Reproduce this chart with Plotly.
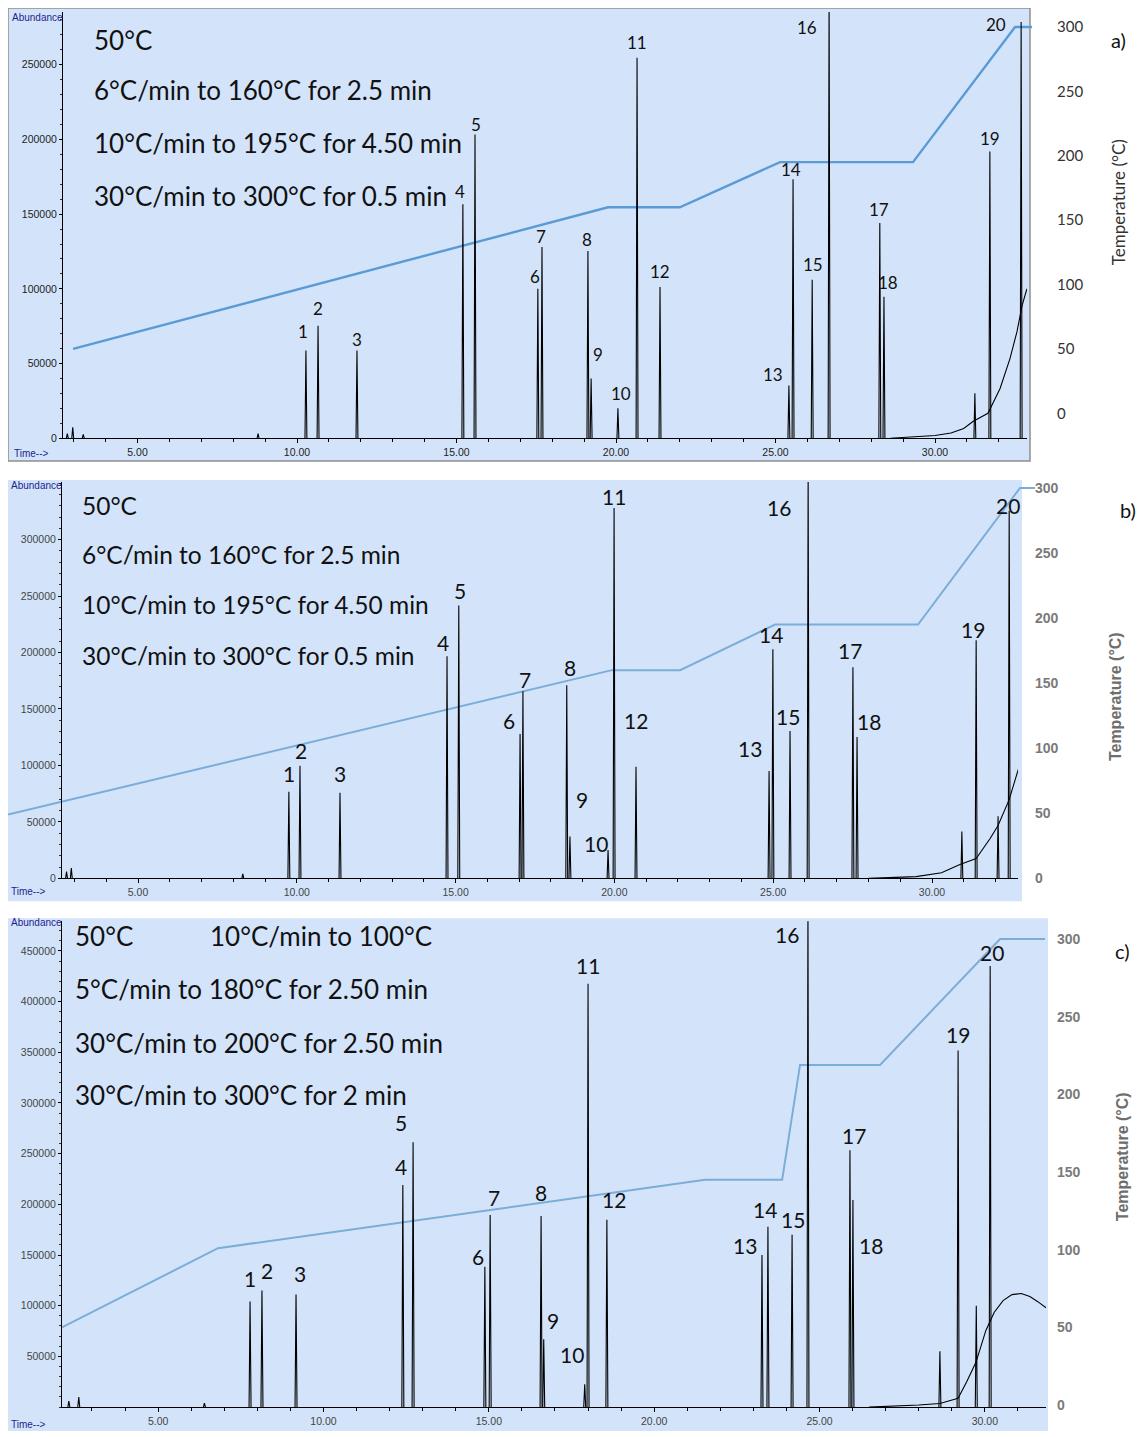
import plotly.graph_objects as go

# page is 1144x1437; the HTML body has an 8px margin, so the figure covers 8..1144 / 8..1437
OFF = 8
W, H = 1144 - OFF, 1437 - OFF
PEAK_NAMES = [str(i) for i in range(1, 21)]

# ---------------- panel a ----------------
a_rt = [10.28, 10.66, 11.88, 15.20, 15.58, 17.55, 17.68, 19.12, 19.22, 20.06,
        20.66, 21.38, 25.42, 25.55, 26.15, 26.68, 28.27, 28.40, 31.72, 32.70]
a_abund = [58700, 75300, 58700, 156700, 203300, 100000, 128000, 125300, 40000, 20000,
           254700, 101300, 35300, 173300, 106000, 300000, 144000, 94700, 192000, 278700]
a_minor_rt = [2.80, 2.97, 3.30, 8.78, 31.25]
a_minor_abund = [3000, 7300, 2500, 3000, 30000]
a_bleed_rt = [28.6, 29.4, 30.0, 30.5, 30.9, 31.2, 31.66, 32.04, 32.35, 32.57, 32.73, 32.88]
a_bleed_abund = [0, 800, 1800, 3500, 6500, 11300, 16700, 33300, 53300, 71300, 88700, 100000]
a_prog_time = [2.98, 19.75, 22.00, 25.14, 29.31, 32.51, 33.04]
a_prog_temp = [50, 160, 160, 195, 195, 300, 300]
a_label_rt = [10.19, 10.66, 11.88, 15.11, 15.61, 17.46, 17.65, 19.09, 19.44, 20.16,
              20.66, 21.38, 24.92, 25.49, 26.18, 25.99, 28.24, 28.53, 31.72, 31.91]
a_label_abund = [71300, 86700, 66000, 165300, 210000, 108000, 135300, 132700, 56000, 30000,
                 264700, 111300, 42700, 180000, 116000, 274700, 153300, 104000, 200700, 276700]
a_program = ["50°C", "6°C/min to 160°C for 2.5 min", "10°C/min to 195°C for 4.50 min",
             "30°C/min to 300°C for 0.5 min"]
a_yticks = [0, 50000, 100000, 150000, 200000, 250000]

# ---------------- panel b ----------------
b_rt = [9.75, 10.10, 11.36, 14.73, 15.10, 17.03, 17.12, 18.50, 18.60, 19.80,
        19.99, 20.68, 24.87, 24.99, 25.53, 26.10, 27.51, 27.64, 31.39, 32.43]
b_abund = [76700, 99700, 75900, 196700, 241700, 127900, 165800, 171100, 37000, 25000,
           328100, 98800, 95000, 202900, 130500, 360000, 187000, 125200, 210800, 325500]
b_minor_rt = [2.75, 2.90, 8.30, 30.94, 32.08]
b_minor_abund = [6000, 9000, 4000, 41500, 55000]
b_bleed_rt = [28.0, 29.5, 30.3, 30.88, 31.39, 31.83, 32.08, 32.43, 32.77]
b_bleed_abund = [0, 1500, 5000, 12300, 17600, 35300, 46800, 69700, 101400]
b_prog_time = [0.91, 19.92, 22.07, 25.06, 29.56, 32.77, 33.24]
b_prog_temp = [49, 160, 160, 195, 195, 300, 300]
b_label_rt = [9.75, 10.13, 11.36, 14.60, 15.14, 16.68, 17.18, 18.60, 18.98, 19.42,
              19.99, 20.68, 24.27, 24.93, 25.47, 25.19, 27.42, 28.02, 31.29, 32.40]
b_label_abund = [92600, 112900, 92600, 209000, 254900, 139800, 175900, 186500, 69700, 30900,
                 338500, 139800, 114600, 216100, 143300, 328100, 201700, 138900, 220500, 330300]
b_program = ["50°C", "6°C/min to 160°C for 2.5 min", "10°C/min to 195°C for 4.50 min",
             "30°C/min to 300°C for 0.5 min"]
b_yticks = [0, 50000, 100000, 150000, 200000, 250000, 300000]

# ---------------- panel c ----------------
c_rt = [7.78, 8.14, 9.17, 12.40, 12.71, 14.88, 15.04, 16.58, 16.66, 17.90,
        18.00, 18.57, 23.26, 23.44, 24.17, 24.65, 25.92, 26.01, 29.19, 30.16]
c_abund = [104100, 114900, 111000, 219000, 261300, 138500, 189600, 188600, 66800, 22600,
           417500, 184700, 150000, 177800, 170000, 500000, 253400, 204300, 351700, 435200]
c_minor_rt = [2.30, 2.60, 6.40, 28.64, 29.74]
c_minor_abund = [6000, 10000, 4000, 55000, 100000]
c_bleed_rt = [26.5, 27.43, 28.0, 28.64, 29.19, 29.45, 29.73, 30.03, 30.28, 30.55, 30.82,
              31.1, 31.36, 31.6, 31.85]
c_bleed_abund = [0, 1000, 2000, 3500, 8800, 25000, 44200, 75600, 93300, 105000, 111000,
                 112000, 109000, 104000, 98000]
c_prog_time = [2.09, 6.81, 21.54, 23.87, 24.41, 26.83, 30.46, 31.82]
c_prog_temp = [50, 101, 145, 145, 219, 219, 300, 300]
c_label_rt = [7.78, 8.29, 9.29, 12.34, 12.34, 14.67, 15.16, 16.58, 16.94, 17.52,
              18.00, 18.79, 22.75, 23.35, 24.20, 24.02, 26.04, 26.55, 29.19, 30.22]
c_label_abund = [126700, 134600, 131600, 237700, 280900, 148400, 206300, 211200, 85500, 52000,
                 436100, 204300, 159100, 194500, 184700, 466600, 268200, 159100, 367400, 448000]
c_program = ["50°C", "5°C/min to 180°C for 2.50 min", "30°C/min to 200°C for 2.50 min",
             "30°C/min to 300°C for 2 min"]
c_program_extra = "10°C/min to 100°C"
c_yticks = [50000, 100000, 150000, 200000, 250000, 300000, 350000, 400000, 450000]

temp_ticks = [0, 50, 100, 150, 200, 250, 300]
x_ticks = [5, 10, 15, 20, 25, 30]


def fx(px):
    return (px - OFF) / W


def fy(py):
    return 1 - (py - OFF) / H


TXT = "Lato, Noto Sans, sans-serif"
TICKF = "Liberation Sans Narrow, Liberation Sans, Arial, sans-serif"
GRAYF = "Liberation Sans Narrow, Liberation Sans, sans-serif"

# layout geometry for each panel (page pixels)
panels = [
    dict(rt=a_rt, ab=a_abund, mrt=a_minor_rt, mab=a_minor_abund, brt=a_bleed_rt, bab=a_bleed_abund,
         pt=a_prog_time, pT=a_prog_temp, lrt=a_label_rt, lab=a_label_abund, prog=a_program,
         yticks=a_yticks,
         blue=(8, 8, 1030, 463), border=True,
         cx=(63, 1027), cy=(12, 440), xcal=(297, 10.0, 31.9), zero=440, upp=666.7,
         tx=(63, 1032), ty=(8, 450), tzero=415, tppd=1.2933, tpos=1056,
         tempfont=dict(family=TXT, size=15, color="#333333"),
         ttl=(1118, 203), ttlfont=dict(family=TXT, size=17, color="#333333"),
         tag="a)", tagpos=(1118, 40),
         progx=92, progy=[40, 90, 144, 197], progsize=26, labsize=17,
         linecol="#5b9bd5", linew=2.4,
         abund=(10, 18), time=(12, 455), tickcol="#222222"),
    dict(rt=b_rt, ab=b_abund, mrt=b_minor_rt, mab=b_minor_abund, brt=b_bleed_rt, bab=b_bleed_abund,
         pt=b_prog_time, pT=b_prog_temp, lrt=b_label_rt, lab=b_label_abund, prog=b_program,
         yticks=b_yticks,
         blue=(8, 482, 1022, 905), border=False,
         cx=(62, 1018), cy=(484, 882), xcal=(138, 5.0, 31.76), zero=882, upp=882.0,
         tx=(8, 1036), ty=(478, 895), tzero=882, tppd=1.3067, tpos=1034,
         tempfont=dict(family=GRAYF, size=14, color="#7a7a7a", weight="bold"),
         ttl=(1115, 700), ttlfont=dict(family=GRAYF, size=16, color="#6e6e6e", weight="bold"),
         tag="b)", tagpos=(1128, 512),
         progx=80, progy=[508, 557, 607, 658], progsize=24.5, labsize=21,
         linecol="#7badd8", linew=2.0,
         abund=(9, 488), time=(9, 895), tickcol="#444444"),
    dict(rt=c_rt, ab=c_abund, mrt=c_minor_rt, mab=c_minor_abund, brt=c_bleed_rt, bab=c_bleed_abund,
         pt=c_prog_time, pT=c_prog_temp, lrt=c_label_rt, lab=c_label_abund, prog=c_program,
         yticks=c_yticks,
         blue=(8, 922, 1048, 1437), border=False,
         cx=(62, 1046), cy=(925, 1413), xcal=(571.5, 17.5, 33.07), zero=1413, upp=982.3,
         tx=(62, 1048), ty=(920, 1425), tzero=1411, tppd=1.56, tpos=1056,
         tempfont=dict(family=GRAYF, size=14, color="#7a7a7a", weight="bold"),
         ttl=(1122, 1162), ttlfont=dict(family=GRAYF, size=16, color="#6e6e6e", weight="bold"),
         tag="c)", tagpos=(1122, 955),
         progx=73, progy=[940, 993, 1047, 1100], progsize=26, labsize=21,
         linecol="#7badd8", linew=2.0,
         abund=(9, 926), time=(9, 1430), tickcol="#444444"),
]

fig = go.Figure()
layout = dict(width=W, height=H, margin=dict(l=0, r=0, t=0, b=0),
              paper_bgcolor="white", plot_bgcolor="rgba(0,0,0,0)",
              showlegend=False, shapes=[], annotations=[])

HALF_W = 0.03

for i, p in enumerate(panels):
    nt, nc = 2 * i + 1, 2 * i + 2
    sx = lambda n: "x" if n == 1 else f"x{n}"
    sy = lambda n: "y" if n == 1 else f"y{n}"
    ax = lambda n, k: f"{k}axis" if n == 1 else f"{k}axis{n}"

    x0, y0, x1, y1 = p["blue"]
    layout["shapes"].append(dict(type="rect", xref="paper", yref="paper", layer="below",
                                 x0=fx(x0), x1=fx(x1), y0=fy(y1), y1=fy(y0),
                                 fillcolor="#d3e4fa",
                                 line=dict(color="#8f8f8f", width=1.5) if p["border"] else dict(width=0)))

    xref_px, tref, ppm = p["xcal"]
    t_at = lambda px: tref + (px - xref_px) / ppm

    # temperature program subplot
    layout[ax(nt, "x")] = dict(domain=[fx(p["tx"][0]), fx(p["tx"][1])],
                               range=[t_at(p["tx"][0]), t_at(p["tx"][1])],
                               visible=False, anchor=sy(nt), fixedrange=True)
    tb, tt = p["ty"][1], p["ty"][0]
    layout[ax(nt, "y")] = dict(domain=[fy(tb), fy(tt)],
                               range=[(p["tzero"] - tb) / p["tppd"], (p["tzero"] - tt) / p["tppd"]],
                               anchor="free", position=fx(p["tpos"]), side="right",
                               showline=False, ticks="", showgrid=False, zeroline=False,
                               tickmode="array", tickvals=temp_ticks,
                               tickfont=p["tempfont"], fixedrange=True)
    fig.add_trace(go.Scatter(x=p["pt"], y=p["pT"], mode="lines",
                             line=dict(color=p["linecol"], width=p["linew"]),
                             xaxis=sx(nt), yaxis=sy(nt), hoverinfo="skip"))

    # chromatogram subplot
    layout[ax(nc, "x")] = dict(domain=[fx(p["cx"][0]), fx(p["cx"][1])],
                               range=[t_at(p["cx"][0]), t_at(p["cx"][1])],
                               anchor=sy(nc), showline=True, linecolor="black", linewidth=1,
                               ticks="outside", ticklen=4, tickcolor="black", tickwidth=1,
                               tickmode="array", tickvals=x_ticks,
                               ticktext=[f"{v:.2f}" for v in x_ticks],
                               minor=dict(tickmode="linear", tick0=0, dtick=1, ticks="outside",
                                          ticklen=3, tickcolor="black", showgrid=False),
                               showgrid=False, zeroline=False,
                               tickfont=dict(family=TICKF, size=10.5, color=p["tickcol"]),
                               fixedrange=True)
    cb, ct = p["cy"][1], p["cy"][0]
    layout[ax(nc, "y")] = dict(domain=[fy(cb), fy(ct)],
                               range=[(p["zero"] - cb) * p["upp"], (p["zero"] - ct) * p["upp"]],
                               anchor=sx(nc), showline=True, linecolor="black", linewidth=1,
                               ticks="outside", ticklen=3, tickcolor="black",
                               tickmode="array", tickvals=p["yticks"],
                               ticktext=[str(v) for v in p["yticks"]],
                               minor=dict(tickmode="linear", tick0=0, dtick=10000, ticks="outside",
                                          ticklen=2, tickcolor="#333333", showgrid=False),
                               showgrid=False, zeroline=False,
                               tickfont=dict(family=TICKF, size=10.5, color=p["tickcol"]),
                               fixedrange=True)

    px_, py_ = [], []
    peaks = sorted(list(zip(p["rt"], p["ab"])) + list(zip(p["mrt"], p["mab"])))
    for t, h in peaks:
        px_ += [t - HALF_W, t, t + HALF_W, None]
        py_ += [0, h, 0, None]
    fig.add_trace(go.Scatter(x=px_, y=py_, mode="lines", line=dict(color="black", width=1.1),
                             xaxis=sx(nc), yaxis=sy(nc), hoverinfo="skip"))
    fig.add_trace(go.Scatter(x=p["brt"], y=p["bab"], mode="lines",
                             line=dict(color="black", width=1.1),
                             xaxis=sx(nc), yaxis=sy(nc), hoverinfo="skip"))

    # peak numbers
    for name, lt, la in zip(PEAK_NAMES, p["lrt"], p["lab"]):
        layout["annotations"].append(dict(text=name, x=lt, y=la, xref=sx(nc), yref=sy(nc),
                                          showarrow=False, xanchor="center", yanchor="middle",
                                          font=dict(family=TXT, size=p["labsize"], color="#111111")))
    # oven program text
    for line, yy in zip(p["prog"], p["progy"]):
        layout["annotations"].append(dict(text=line, x=fx(p["progx"]), y=fy(yy), xref="paper", yref="paper",
                                          showarrow=False, xanchor="left", yanchor="middle",
                                          font=dict(family=TXT, size=p["progsize"], color="#111111")))
    # frame texts
    layout["annotations"].append(dict(text="Abundance", x=fx(p["abund"][0]), y=fy(p["abund"][1]),
                                      xref="paper", yref="paper", showarrow=False,
                                      xanchor="left", yanchor="middle",
                                      font=dict(family=TICKF, size=10, color="#1f1f8f")))
    layout["annotations"].append(dict(text="Time-->", x=fx(p["time"][0]), y=fy(p["time"][1]),
                                      xref="paper", yref="paper", showarrow=False,
                                      xanchor="left", yanchor="middle",
                                      font=dict(family=TICKF, size=10, color="#1f1f8f")))
    layout["annotations"].append(dict(text="Temperature (°C)", x=fx(p["ttl"][0]), y=fy(p["ttl"][1]),
                                      xref="paper", yref="paper", showarrow=False, textangle=-90,
                                      xanchor="center", yanchor="middle", font=p["ttlfont"]))
    layout["annotations"].append(dict(text=p["tag"], x=fx(p["tagpos"][0]), y=fy(p["tagpos"][1]),
                                      xref="paper", yref="paper", showarrow=False,
                                      xanchor="center", yanchor="middle",
                                      font=dict(family=TXT, size=20, color="#111111")))

layout["annotations"].append(dict(text=c_program_extra, x=fx(208), y=fy(940), xref="paper", yref="paper",
                                  showarrow=False, xanchor="left", yanchor="middle",
                                  font=dict(family=TXT, size=26, color="#111111")))

fig.update_layout(**layout)
fig.write_html("out.html")
